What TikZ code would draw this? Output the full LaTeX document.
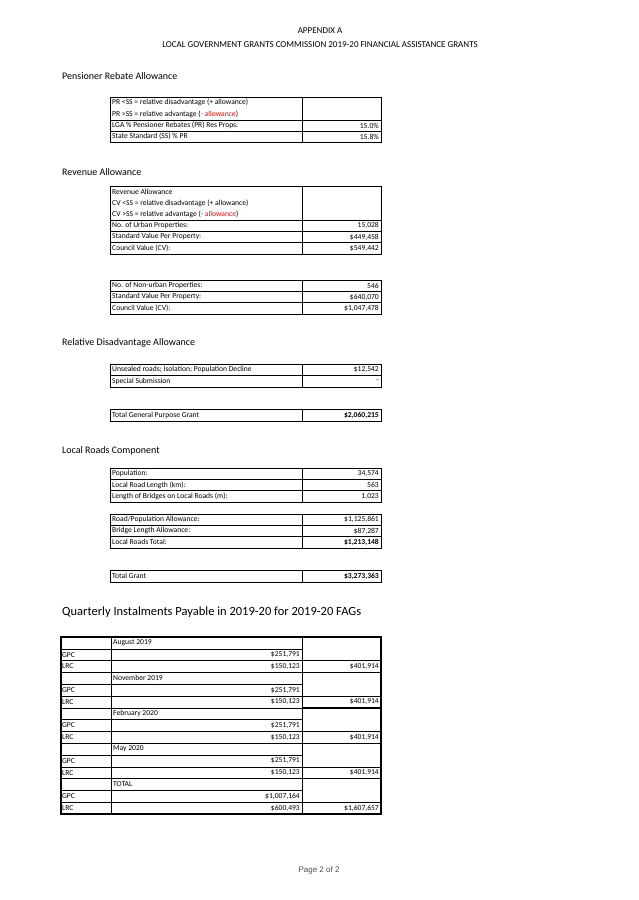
\documentclass[tikz,border=0pt]{standalone}
\usepackage{fontspec}
\setmainfont{Carlito}
\setsansfont{Liberation Sans}
\usetikzlibrary{calc}
\tikzset{
 cell/.style={draw=black,line width=0.6pt},
 lab/.style={anchor=west,inner sep=0pt,font=\fontsize{7.6}{8}\selectfont},
 val/.style={anchor=east,inner sep=0pt,font=\fontsize{7.6}{8}\selectfont},
 head/.style={anchor=west,inner sep=0pt,font=\fontsize{10}{11}\selectfont},
}
\newcommand{\trow}[5]{% name, y1, y2, label, value
 \draw[cell] (110,#2) rectangle (302,#3);
 \draw[cell] (302,#2) rectangle (381,#3);
 \node[lab] (#1l) at (112,{(#2+#3)/2}) {#4};
 \node[val] (#1v) at (379,{(#2+#3)/2}) {#5};}
\begin{document}
\begin{tikzpicture}[x=1pt,y=-1pt]
\useasboundingbox (0,0) rectangle (638,900);
\fill[white] (0,0) rectangle (638,900);
\node[font=\fontsize{9}{10}\selectfont] (t1) at (320,31) {APPENDIX A};
\node[font=\fontsize{9}{10}\selectfont] (t2) at (320,45) {LOCAL GOVERNMENT GRANTS COMMISSION 2019-20 FINANCIAL ASSISTANCE GRANTS};
\node[head] (h1) at (62,76) {Pensioner Rebate Allowance};
\node[head] (h2) at (62,172) {Revenue Allowance};
\node[head] (h3) at (62,343) {Relative Disadvantage Allowance};
\node[head] (h4) at (62,451) {Local Roads Component};
\node[anchor=west,inner sep=0pt,font=\fontsize{12.5}{13}\selectfont] (h5) at (62,612) {Quarterly Instalments Payable in 2019-20 for 2019-20 FAGs};
% table 1
\draw[cell] (110,97) rectangle (302,120); \draw[cell] (302,97) rectangle (381,120);
\node[lab] (a1) at (112,102.5) {PR <SS = relative disadvantage (+ allowance)};
\node[lab] (a2) at (112,114) {PR >SS = relative advantage (\textcolor{red}{- allowance})};
\trow{b}{120}{131}{LGA \% Pensioner Rebates (PR) Res Props:}{15.0\%}
\trow{c}{131}{142}{State Standard (SS) \% PR}{15.8\%}
% table 2
\draw[cell] (110,186) rectangle (302,220); \draw[cell] (302,186) rectangle (381,220);
\node[lab] (d1) at (112,191.5) {Revenue Allowance};
\node[lab] (d2) at (112,203) {CV <SS = relative disadvantage (+ allowance)};
\node[lab] (d3) at (112,214.5) {CV >SS = relative advantage (\textcolor{red}{- allowance})};
\trow{e}{220}{231.3}{No. of Urban Properties:}{15,028}
\trow{f}{231.3}{242.6}{Standard Value Per Property:}{\$449,458}
\trow{g}{242.6}{254}{Council Value (CV):}{\$549,442}
% table 3
\trow{h}{280}{291.3}{No. of Non-urban Properties:}{546}
\trow{i}{291.3}{302.6}{Standard Value Per Property:}{\$640,070}
\trow{j}{302.6}{314}{Council Value (CV):}{\$1,047,478}
% table 4
\trow{k}{364}{375.5}{Unsealed roads; Isolation; Population Decline}{\$12,542}
\trow{l}{375.5}{387}{Special Submission}{-}
\trow{m}{409}{421}{Total General Purpose Grant}{\textbf{\$2,060,215}}
% table 6
\trow{n}{468}{479.3}{Population:}{34,574}
\trow{o}{479.3}{490.6}{Local Road Length (km):}{563}
\trow{p}{490.6}{502}{Length of Bridges on Local Roads (m):}{1,023}
\trow{q}{514}{525.3}{Road/Population Allowance:}{\$1,125,861}
\trow{r}{525.3}{536.6}{Bridge Length Allowance:}{\$87,287}
\trow{s}{536.6}{548}{Local Roads Total:}{\textbf{\$1,213,148}}
\trow{u}{570}{582}{Total Grant}{\textbf{\$3,273,363}}
% quarterly table
\def\rh{11.8}
\foreach \per [count=\g from 0] in {August 2019,November 2019,February 2020,May 2020,TOTAL}{
  \pgfmathsetmacro{\ya}{637+3*\g*\rh}
  \pgfmathsetmacro{\yb}{\ya+\rh}
  \pgfmathsetmacro{\yc}{\yb+\rh}
  \pgfmathsetmacro{\yd}{\yc+\rh}
  \draw[cell] (61,\ya) rectangle (111,\yb);
  \draw[cell] (111,\ya) rectangle (302,\yb);
  \draw[cell] (61,\yb) rectangle (111,\yc);
  \draw[cell] (111,\yb) rectangle (302,\yc);
  \draw[cell] (61,\yc) rectangle (111,\yd);
  \draw[cell] (111,\yc) rectangle (302,\yd);
  \draw[cell] (302,\ya) rectangle (381,\yc);
  \draw[cell] (302,\yc) rectangle (381,\yd);
  \draw[line width=1.4pt] (302,\yd) -- (381,\yd);
  \node[lab] (per\g) at (113,{\ya+\rh/2}) {\per};
  \node[lab] (gl\g) at (62,{\yb+\rh/2}) {GPC};
  \node[lab] (ll\g) at (62,{\yc+\rh/2}) {LRC};
}
\draw[line width=1.4pt] (61,637) rectangle (381,814.0);
\foreach \g/\gv/\lv/\tv in {0/{\$251,791}/{\$150,123}/{\$401,914},1/{\$251,791}/{\$150,123}/{\$401,914},2/{\$251,791}/{\$150,123}/{\$401,914},3/{\$251,791}/{\$150,123}/{\$401,914},4/{\$1,007,164}/{\$600,493}/{\$1,607,657}}{
  \pgfmathsetmacro{\yb}{637+(3*\g+1)*\rh}
  \node[val] (gv\g) at (300,{\yb+\rh/2}) {\gv};
  \node[val] (lv\g) at (300,{\yb+1.5*\rh}) {\lv};
  \node[val] (tv\g) at (379,{\yb+1.5*\rh}) {\tv};
}
\node[font=\sffamily\fontsize{8}{9}\selectfont,text=black!70] (pg) at (319,870) {Page 2 of 2};
\end{tikzpicture}
\end{document}
